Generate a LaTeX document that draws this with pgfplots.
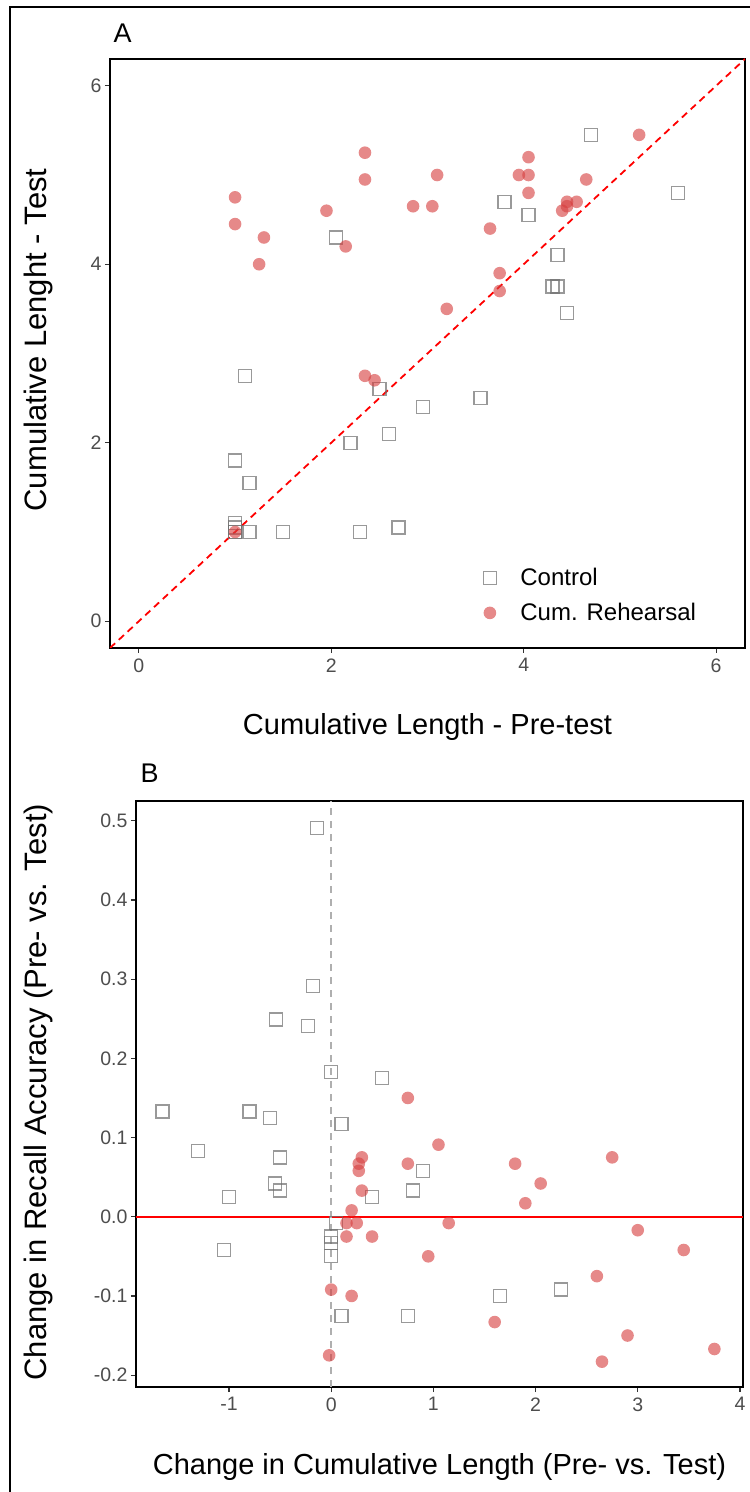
\documentclass[border=0pt]{standalone}
\usepackage{pgfplots}
\pgfplotsset{compat=1.18}
\usepackage{fontspec}
\setmainfont{Liberation Sans}
\definecolor{tickgray}{HTML}{4D4D4D}
\definecolor{ptred}{RGB}{214,64,64}
\definecolor{sqgray}{RGB}{110,110,110}
\definecolor{vgray}{RGB}{175,175,175}
\begin{document}
\begin{tikzpicture}[x=1pt,y=1pt]
\useasboundingbox (0pt,0pt) rectangle (750pt,1492pt);
\draw[line width=1.2pt] (10pt,-20pt) -- (10pt,1485pt) -- (770pt,1485pt);
\pgfplotsset{
  myax/.style={
    scale only axis,
    axis line style={line width=1.3pt, black},
    tick align=outside, xtick pos=left, ytick pos=left,
    major tick length=5pt,
    every tick/.style={black!80, line width=1.2pt},
    tick label style={font=\fontsize{19.5}{22}\selectfont, text=tickgray},
    xticklabel style={yshift=-2pt},
    label style={font=\fontsize{29}{34}\selectfont},
    ylabel style={font=\fontsize{31}{34}\selectfont},
    /pgf/number format/assume math mode=true,
  },
  ctrl/.style={only marks, mark=square, mark size=6.5pt,
    mark options={draw=sqgray, draw opacity=0.7, line width=1.3pt, fill=none}},
  reh/.style={only marks, mark=*, mark size=6.3pt,
    mark options={draw=ptred, draw opacity=0, fill=ptred, fill opacity=0.62}},
}
\begin{axis}[myax, at={(110pt,844pt)}, anchor=south west, width=635pt, height=589pt,
  xmin=-0.3, xmax=6.3, ymin=-0.3, ymax=6.3,
  xtick={0,2,4,6}, ytick={0,2,4,6},
  xlabel={Cumulative Length - Pre-test},
  ylabel={Cumulative Lenght - Test},
  xlabel style={at={(axis description cs:0.5,-0.134)}, anchor=center},
  ylabel style={at={(axis description cs:-0.113,0.523)}, anchor=center},
  legend style={draw=none, fill=none, font=\fontsize{24}{28}\selectfont,
    at={(axis description cs:0.583,0.142)}, anchor=north west, row sep=12pt,
    /tikz/every odd column/.append style={column sep=22pt}},
  legend cell align=left,
]
\addplot[red, line width=1.8pt, dash pattern=on 7pt off 5pt, forget plot]
  coordinates {(-0.3,-0.3) (6.3,6.3)};
\addplot[ctrl] coordinates {
(4.7,5.45) (5.6,4.8) (3.8,4.7) (4.05,4.55) (2.05,4.3) (4.35,4.1) (4.3,3.75)
(4.35,3.75) (4.45,3.45) (1.1,2.75) (2.5,2.6) (2.95,2.4) (3.55,2.5) (2.2,2.0)
(2.6,2.1) (1.0,1.8) (1.15,1.55) (1.0,1.1) (1.0,1.05) (1.0,1.0) (1.0,1.0)
(1.15,1.0) (1.5,1.0) (2.3,1.0) (2.7,1.05)
};
\addlegendentry{Control}
\addplot[reh] coordinates {
(1.0,4.75) (1.0,4.45) (1.3,4.3) (1.25,4.0) (1.95,4.6) (2.15,4.2) (2.35,5.25)
(2.35,4.95) (3.1,5.0) (2.85,4.65) (3.05,4.65) (3.65,4.4) (3.75,3.9) (3.75,3.7)
(3.2,3.5) (4.05,5.2) (3.95,5.0) (4.05,5.0) (4.05,4.8) (4.65,4.95) (5.2,5.45)
(4.45,4.7) (4.55,4.7) (4.4,4.6) (4.45,4.65) (2.35,2.75) (2.45,2.7) (1.0,1.0)
};
\addlegendentry{Cum. Rehearsal}
\end{axis}
\node[anchor=base west, font=\fontsize{27}{30}\selectfont] at (110pt,1449pt) {A};
\node[anchor=base west, font=\fontsize{27}{30}\selectfont] at (137pt,709pt) {B};
\begin{axis}[myax, at={(136pt,105pt)}, anchor=south west, width=607pt, height=586pt,
  xmin=-1.91, xmax=4.03, ymin=-0.215, ymax=0.525,
  xtick={-1,0,1,2,3,4}, xticklabels={-1,0,1,2,3,4},
  ytick={-0.2,-0.1,0,0.1,0.2,0.3,0.4,0.5},
  yticklabels={-0.2,-0.1,0.0,0.1,0.2,0.3,0.4,0.5},
  xlabel={Change in Cumulative Length (Pre- vs. Test)},
  ylabel={Change in Recall Accuracy (Pre- vs. Test)},
  xlabel style={at={(axis description cs:0.5,-0.1365)}, anchor=center},
  ylabel style={at={(axis description cs:-0.161,0.503)}, anchor=center},
]
\addplot[red, line width=2pt] coordinates {(-1.91,0) (4.03,0)};
\addplot[vgray, line width=1.5pt, dash pattern=on 7pt off 6pt] coordinates {(0,-0.215) (0,0.525)};
\addplot[ctrl] coordinates {
(-0.14,0.491) (-0.18,0.291) (-0.54,0.249) (-0.23,0.241) (0.0,0.183) (0.5,0.175)
(-1.65,0.133) (-0.8,0.133) (-0.6,0.125) (0.1,0.117) (-1.3,0.083) (-0.5,0.075)
(0.9,0.058) (-0.55,0.042) (-0.5,0.033) (0.8,0.033) (-1.0,0.025) (0.4,0.025)
(-1.05,-0.042) (0.05,-0.008) (0,-0.025) (0,-0.033) (0,-0.05) (1.65,-0.1)
(2.25,-0.092) (0.1,-0.125) (0.75,-0.125)
};
\addplot[reh] coordinates {
(0.75,0.15) (1.05,0.091) (0.3,0.075) (0.27,0.067) (0.27,0.058) (0.75,0.067)
(0.3,0.033) (1.8,0.067) (2.05,0.042) (1.9,0.017) (2.75,0.075) (0.2,0.008)
(0.15,-0.008) (0.25,-0.008) (1.15,-0.008) (0.15,-0.025) (0.4,-0.025)
(0.95,-0.05) (3.0,-0.017) (3.45,-0.042) (2.6,-0.075) (0.0,-0.092) (0.2,-0.1)
(-0.02,-0.175) (1.6,-0.133) (2.9,-0.15) (2.65,-0.183) (3.75,-0.167)
};
\end{axis}
\end{tikzpicture}
\end{document}
